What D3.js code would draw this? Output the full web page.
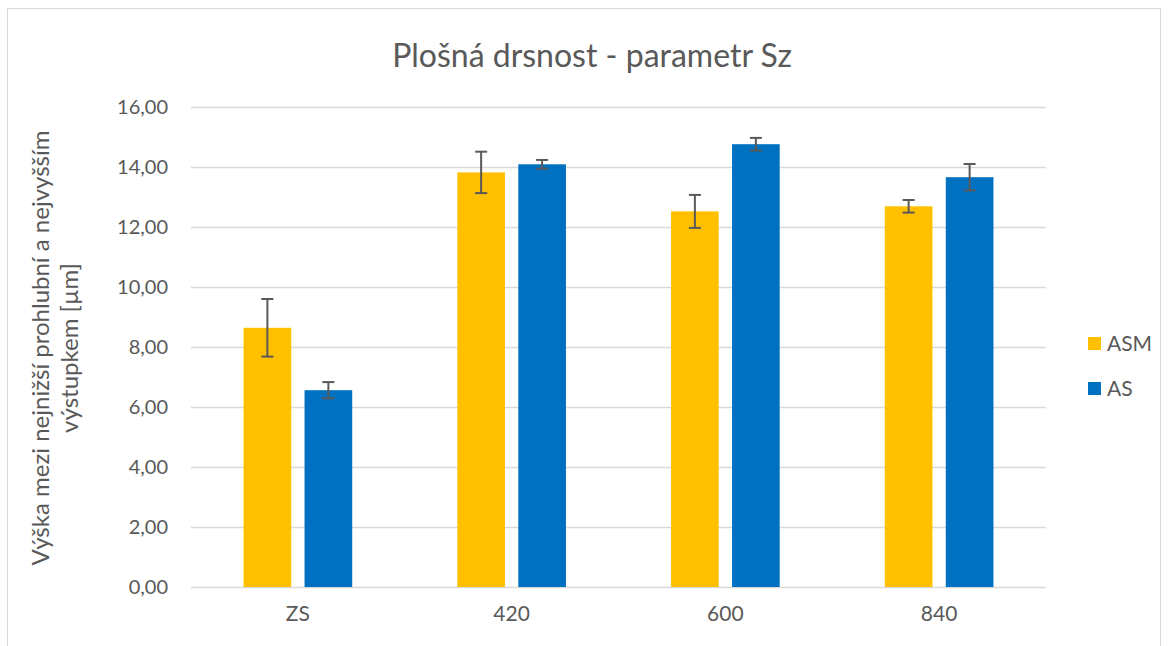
<!DOCTYPE html>
<html>
<head>
<meta charset="utf-8">
<script src="https://cdn.jsdelivr.net/npm/d3@7"></script>
<style>
  html, body { margin: 0; padding: 0; background: #fff; }
  svg text { font-family: Lato, "Open Sans", sans-serif; fill: #595959; }
</style>
</head>
<body>
<svg id="chart" width="1169" height="646"></svg>
<script>
// Sample groups and surface roughness Sz (mean and standard deviation)
const categories = ["ZS", "420", "600", "840"];
const seriesNames = ["ASM", "AS"];
const asmValues = [8.64, 13.82, 12.52, 12.69];
const asmErrors = [0.96, 0.69, 0.55, 0.21];
const asValues = [6.56, 14.09, 14.76, 13.66];
const asErrors = [0.27, 0.145, 0.21, 0.44];
const yTicks = [0, 2, 4, 6, 8, 10, 12, 14, 16];
const colors = ["#FFC000", "#0070C0"];

const series = [
  { name: seriesNames[0], values: asmValues, errors: asmErrors, color: colors[0] },
  { name: seriesNames[1], values: asValues, errors: asErrors, color: colors[1] }
];

const svg = d3.select("#chart");
const plot = { left: 191, right: 1046, top: 107, bottom: 587 };

// outer chart frame
svg.append("rect")
  .attr("x", 7.5).attr("y", 8.5)
  .attr("width", 1153).attr("height", 700)
  .attr("fill", "none").attr("stroke", "#d9d9d9").attr("stroke-width", 1);

const x = d3.scaleBand().domain(categories).range([plot.left, plot.right]).padding(0);
const y = d3.scaleLinear().domain([0, 16]).range([plot.bottom, plot.top]);

const fmt = v => d3.format(".2f")(v).replace(".", ",");

// horizontal gridlines
svg.append("g")
  .selectAll("line").data(yTicks).join("line")
  .attr("x1", plot.left).attr("x2", plot.right)
  .attr("y1", d => Math.round(y(d)) + 0.5).attr("y2", d => Math.round(y(d)) + 0.5)
  .attr("stroke", "#d9d9d9").attr("stroke-width", 1.3);

// y axis labels
const yAxis = d3.axisLeft(y).tickValues(yTicks).tickFormat(fmt).tickSize(0).tickPadding(23);
const gy = svg.append("g").attr("transform", `translate(${plot.left},0)`).call(yAxis);
gy.select(".domain").remove();
gy.selectAll("text").attr("font-size", 20).style("font-family", "Lato, 'Open Sans', sans-serif").attr("fill", "#595959");

// x axis labels
const xAxis = d3.axisBottom(x).tickSize(0).tickPadding(19);
const gx = svg.append("g").attr("transform", `translate(0,${plot.bottom})`).call(xAxis);
gx.select(".domain").remove();
gx.selectAll("text").attr("font-size", 21).style("font-family", "Lato, 'Open Sans', sans-serif").attr("fill", "#595959");

// bars within each category
const bw = x.bandwidth();
const barW = bw * 0.223;
const innerGap = bw * 0.0623;
const groupW = barW * 2 + innerGap;
const offset = (s) => (bw - groupW) / 2 + s * (barW + innerGap);

series.forEach((s, si) => {
  const g = svg.append("g");
  g.selectAll("rect").data(categories).join("rect")
    .attr("x", (c) => x(c) + offset(si))
    .attr("y", (c, i) => y(s.values[i]))
    .attr("width", barW)
    .attr("height", (c, i) => y(0) - y(s.values[i]))
    .attr("fill", s.color);

  // error bars
  const eg = svg.append("g").attr("stroke", "#595959").attr("stroke-width", 2);
  categories.forEach((c, i) => {
    const cx = x(c) + offset(si) + barW / 2;
    const hi = y(s.values[i] + s.errors[i]);
    const lo = y(s.values[i] - s.errors[i]);
    eg.append("line").attr("x1", cx).attr("x2", cx).attr("y1", hi).attr("y2", lo);
    eg.append("line").attr("x1", cx - 6).attr("x2", cx + 6).attr("y1", hi).attr("y2", hi);
    eg.append("line").attr("x1", cx - 6).attr("x2", cx + 6).attr("y1", lo).attr("y2", lo);
  });
});

// title
svg.append("text")
  .attr("x", 592).attr("y", 67)
  .attr("text-anchor", "middle")
  .attr("font-size", 32)
  .text("Plošná drsnost - parametr Sz");

// y axis title (two lines)
const yt = svg.append("text")
  .attr("transform", "translate(0,348) rotate(-90)")
  .attr("text-anchor", "middle")
  .attr("font-size", 24);
yt.append("tspan").attr("x", 0).attr("y", 49).text("Výška mezi nejnižší prohlubní a nejvyšším");
yt.append("tspan").attr("x", 0).attr("y", 78).text("výstupkem [µm]");

// legend
const lg = svg.append("g");
series.forEach((s, i) => {
  const ly = 344 + i * 45;
  lg.append("rect").attr("x", 1088).attr("y", ly - 7).attr("width", 13).attr("height", 13).attr("fill", s.color);
  lg.append("text").attr("x", 1107).attr("y", ly).attr("dy", "0.35em")
    .attr("font-size", 21).text(s.name);
});
</script>
</body>
</html>
